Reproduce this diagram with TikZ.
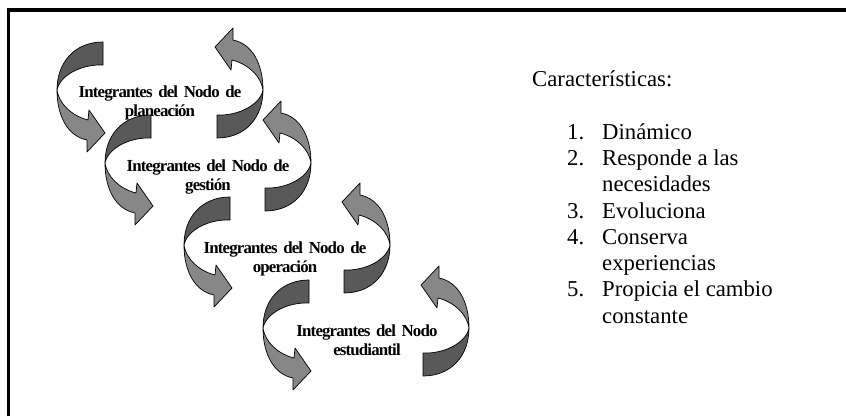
\documentclass[tikz,border=0pt]{standalone}
\usepackage{fontspec}
\setmainfont{Liberation Serif}
\newfontfamily\apretada[LetterSpace=-5,WordSpace=0.7]{Liberation Serif}
\usepackage{tikz}
\definecolor{oscuro}{gray}{0.35}
\definecolor{claro}{gray}{0.53}
\tikzset{
  %Define style for the ribbon parts
  cinta/.style={
    draw=black,
    line width=0.6pt,
    line join=round},
  %Define style for the node texts
  nodo/.style={
    font=\apretada\fontsize{14.4}{16.8}\selectfont\bfseries,
    text width=5.8cm,
    align=center,
    anchor=base,
    inner sep=0pt},
  % Define style for the list on the right
  lista/.style={
    font=\fontsize{19.4}{22.4}\selectfont,
    anchor=base west,
    inner sep=0pt},
  % Define half of the circular arrow
  media/.pic={
    \draw[cinta,fill=oscuro] (-57,-48) .. controls (-85,-48) and (-103,-28) .. (-103,0)
      .. controls (-100,-15) and (-78,-26) .. (-57,-25) -- cycle;
    \draw[cinta,fill=claro] (-103,0) .. controls (-103,25) and (-93,46) .. (-73,50)
      -- (-73,62) -- (-55,43) -- (-71,20) -- (-72,30)
      .. controls (-88,26) and (-101,14) .. (-103,0) -- cycle;
  },
  % Define the whole cycle
  ciclo/.pic={
    \pic {media};
    \pic[rotate=180] {media};
  }
}

\begin{document}
\begin{tikzpicture}[x=0.03cm,y=-0.03cm]
      \useasboundingbox (0,0) rectangle (846,416);
      \draw[line width=3pt] (8.5,416) -- (8.5,9.8) -- (846,9.8);

      \pic (c1) at (160,90) {ciclo};
      \node[nodo] (planeacion) at (160,97) {Integrantes del Nodo de\\planeación};
      \pic (c2) at (208,163) {ciclo};
      \node[nodo] (gestion) at (208,171) {Integrantes del Nodo de\\gestión};
      \pic (c3) at (287,245) {ciclo};
      \node[nodo] (operacion) at (285,253) {Integrantes del Nodo de\\operación};
      \pic (c4) at (366,328) {ciclo};
      \node[nodo] (estudiantil) at (367,336) {Integrantes del Nodo\\estudiantil};

      \node[lista] (carac) at (532,86) {Características:};
      \node[lista] (items) at (567,139.3) {%
        \begin{tabular}[t]{@{}p{1.05cm}@{}l@{}}
          1. & Dinámico\\
          2. & Responde a las\\
             & necesidades\\
          3. & Evoluciona\\
          4. & Conserva\\
             & experiencias\\
          5. & Propicia el cambio\\
             & constante
        \end{tabular}};
    \end{tikzpicture}
\end{document}
